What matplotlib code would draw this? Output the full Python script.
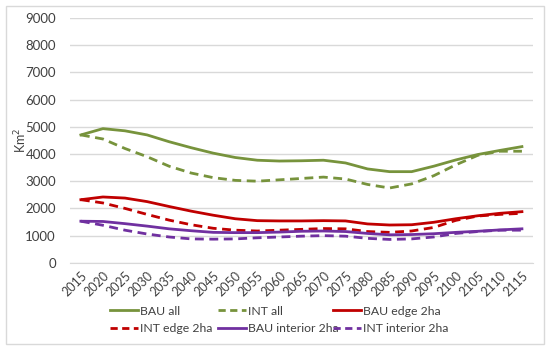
import numpy as np
import matplotlib.pyplot as plt
from matplotlib.patches import Rectangle
from matplotlib.lines import Line2D

years = [str(y) for y in range(2015, 2120, 5)]

bau_all = [4700, 4930, 4850, 4700, 4450, 4230, 4030, 3870, 3770, 3740, 3750,
           3770, 3670, 3450, 3350, 3350, 3550, 3780, 3980, 4130, 4270]
int_all = [4700, 4550, 4200, 3900, 3550, 3300, 3130, 3030, 3000, 3050, 3100,
           3150, 3080, 2880, 2750, 2900, 3200, 3600, 3950, 4100, 4100]
bau_edge = [2320, 2420, 2380, 2250, 2070, 1900, 1750, 1620, 1550, 1540, 1540,
            1550, 1540, 1430, 1390, 1400, 1490, 1620, 1730, 1820, 1880]
int_edge = [2320, 2200, 2000, 1780, 1570, 1400, 1270, 1200, 1170, 1200, 1230,
            1260, 1250, 1150, 1120, 1170, 1300, 1560, 1720, 1780, 1820]
bau_int = [1530, 1520, 1440, 1350, 1250, 1180, 1120, 1110, 1110, 1130, 1160,
           1170, 1150, 1080, 1030, 1040, 1070, 1120, 1160, 1210, 1250]
int_int = [1530, 1380, 1200, 1060, 950, 880, 870, 880, 920, 950, 980,
           1000, 980, 900, 860, 880, 950, 1080, 1150, 1200, 1200]

series = [
    ("BAU all", bau_all, "#77933C", "-"),
    ("INT all", int_all, "#77933C", "--"),
    ("BAU edge 2ha", bau_edge, "#C00000", "-"),
    ("INT edge 2ha", int_edge, "#C00000", "--"),
    ("BAU interior 2ha", bau_int, "#7030A0", "-"),
    ("INT interior 2ha", int_int, "#7030A0", "--"),
]

plt.rcParams['font.family'] = ['Lato', 'DejaVu Sans']
txt = "#404040"

fig = plt.figure(figsize=(5.5, 3.5), dpi=100)
fig.patches.append(Rectangle((0.01, 0.017), 0.979, 0.966, transform=fig.transFigure,
                             fill=False, edgecolor="#D9D9D9", linewidth=1))
ax = fig.add_axes([0.127, 0.249, 0.842, 0.7])

x = np.arange(len(years))
for label, vals, color, ls in series:
    if ls == "--":
        ax.plot(x, vals, color=color, linewidth=2.0, dashes=(3.2, 2.0))
    else:
        ax.plot(x, vals, color=color, linewidth=2.0)

ax.set_xlim(-0.5, len(years) - 0.5)
ax.set_ylim(0, 9000)
ax.set_yticks(range(0, 9001, 1000))
ax.set_xticks(x)
ax.set_xticklabels(years, rotation=45, ha="right", rotation_mode="anchor")
ax.tick_params(axis="y", length=0, labelsize=9.5, colors=txt, pad=10)
ax.tick_params(axis="x", length=0, labelsize=9, colors=txt, pad=5)
ax.grid(axis="y", color="#D9D9D9", linewidth=1)
ax.set_axisbelow(True)
for s in ["top", "right", "left"]:
    ax.spines[s].set_visible(False)
ax.spines["bottom"].set_color("#D9D9D9")
ax.set_ylabel("Km$^2$", fontsize=9, color=txt)
ax.yaxis.set_label_coords(-0.088, 0.5)

# legend: three columns placed at fixed positions, two rows each
col_x = [112, 220, 335]
for c in range(3):
    handles = []
    labels = []
    for r in range(2):
        label, vals, color, ls = series[r * 3 + c]
        if ls == "--":
            h = Line2D([], [], color=color, linewidth=2.0, dashes=(2.6, 1.6))
        else:
            h = Line2D([], [], color=color, linewidth=2.0)
        handles.append(h)
        labels.append(label)
    fig.legend(handles, labels, loc="center left",
               bbox_to_anchor=(col_x[c] / 550 - 0.004, 1 - 320 / 350),
               frameon=False, fontsize=8.8, handlelength=2.3, handletextpad=0.2,
               labelspacing=0.55, borderpad=0, borderaxespad=0, labelcolor=txt)

fig.savefig("out.png", dpi=100)
